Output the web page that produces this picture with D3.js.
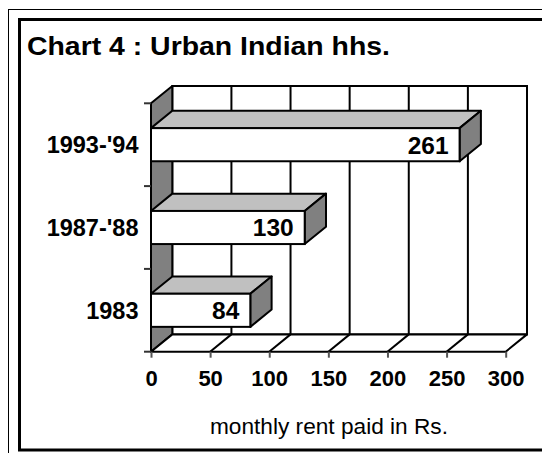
<!DOCTYPE html>
<html>
<head>
<meta charset="utf-8">
<script src="https://cdn.jsdelivr.net/npm/d3@7"></script>
<style>
  html, body { margin: 0; padding: 0; background: #fff; }
  svg { display: block; }
  text { font-family: "Liberation Sans", Arial, Helvetica, sans-serif; }
</style>
</head>
<body>
<script>
// ---- data ----
const categories = ["1993-'94", "1987-'88", "1983"];
const values = [261, 130, 84];
const xTicks = [0, 50, 100, 150, 200, 250, 300];
const title = "Chart 4 : Urban Indian hhs.";
const xAxisTitle = "monthly rent paid in Rs.";

// ---- layout ----
const W = 542, H = 453;
const depth = { dx: 21.3, dy: 17.3 };

const svg = d3.select("body").append("svg").attr("width", W).attr("height", H);

// frames
svg.append("rect").attr("x", 8.5).attr("y", 9.5).attr("width", 600).attr("height", 600)
  .attr("fill", "none").attr("stroke", "#000").attr("stroke-width", 1);
svg.append("rect").attr("x", 19.5).attr("y", 19.5).attr("width", 600).attr("height", 430.5)
  .attr("fill", "#fff").attr("stroke", "#000").attr("stroke-width", 3);

// title
svg.append("text").attr("x", 27).attr("y", 55)
  .attr("font-size", 26).attr("font-weight", "bold").attr("fill", "#000")
  .attr("textLength", 363).attr("lengthAdjust", "spacingAndGlyphs")
  .text(title);

const x = d3.scaleLinear().domain([0, 300]).range([151, 505.7]);
const y = d3.scaleBand().domain(categories).range([103.3, 351.7])
  .paddingInner(0.6).paddingOuter(0.3);
const [yTop, yBot] = y.range();
const step = y.step();
const dx = depth.dx, dy = depth.dy;
const x0 = x(0), x1 = x(300);

const g = svg.append("g");

// back wall
g.append("rect").attr("x", x0 + dx).attr("y", yTop - dy)
  .attr("width", x1 - x0).attr("height", yBot - yTop)
  .attr("fill", "#fff").attr("stroke", "#000").attr("stroke-width", 2);

// back wall gridlines
g.selectAll("line.grid").data(xTicks.slice(1, -1)).join("line")
  .attr("class", "grid")
  .attr("x1", d => x(d) + dx).attr("x2", d => x(d) + dx)
  .attr("y1", yTop - dy).attr("y2", yBot - dy)
  .attr("stroke", "#000").attr("stroke-width", 2);

// side wall
g.append("polygon")
  .attr("points", [[x0, yTop], [x0 + dx, yTop - dy], [x0 + dx, yBot - dy], [x0, yBot]].map(p => p.join(",")).join(" "))
  .attr("fill", "#808080").attr("stroke", "#000").attr("stroke-width", 2).attr("stroke-linejoin", "round");

// floor
g.append("polygon")
  .attr("points", [[x0, yBot], [x1, yBot], [x1 + dx, yBot - dy], [x0 + dx, yBot - dy]].map(p => p.join(",")).join(" "))
  .attr("fill", "#fff").attr("stroke", "#000").attr("stroke-width", 2).attr("stroke-linejoin", "round");

// floor gridlines
g.selectAll("line.fgrid").data(xTicks.slice(1, -1)).join("line")
  .attr("class", "fgrid")
  .attr("x1", d => x(d)).attr("x2", d => x(d) + dx)
  .attr("y1", yBot).attr("y2", yBot - dy)
  .attr("stroke", "#000").attr("stroke-width", 2);

// x axis ticks + labels
const xAxis = d3.axisBottom(x).tickValues(xTicks).tickSize(6).tickPadding(13).tickFormat(d3.format("d"));
const xg = svg.append("g").attr("transform", `translate(0,${yBot})`).call(xAxis);
xg.select(".domain").remove();
xg.selectAll(".tick line").attr("stroke", "#555").attr("stroke-width", 2);
xg.selectAll(".tick text").attr("font-size", 22).attr("font-weight", "bold")
  .attr("fill", "#000").attr("font-family", "'Liberation Sans', Arial, sans-serif");

// y ticks at band boundaries
const yBounds = d3.range(categories.length + 1).map(i => yTop + i * step);
svg.selectAll("line.ytick").data(yBounds).join("line")
  .attr("class", "ytick")
  .attr("x1", x0 - 7).attr("x2", x0).attr("y1", d => d).attr("y2", d => d)
  .attr("stroke", "#333").attr("stroke-width", 2);

// category labels
svg.selectAll("text.cat").data(categories).join("text")
  .attr("class", "cat")
  .attr("x", x0 - 12.5).attr("y", d => y(d) + y.bandwidth() / 2)
  .attr("dy", "0.36em").attr("text-anchor", "end")
  .attr("font-size", 23.5).attr("font-weight", "bold").attr("fill", "#000")
  .text(d => d);

// bars
const data = categories.map((c, i) => ({ c, v: values[i] }));
const bars = svg.selectAll("g.bar").data(data).join("g").attr("class", "bar");
bars.append("polygon") // top face
  .attr("points", d => {
    const yt = y(d.c), xr = x(d.v);
    return [[x0, yt], [x0 + dx, yt - dy], [xr + dx, yt - dy], [xr, yt]].map(p => p.join(",")).join(" ");
  })
  .attr("fill", "#c0c0c0").attr("stroke", "#000").attr("stroke-width", 2).attr("stroke-linejoin", "round");
bars.append("polygon") // right side face
  .attr("points", d => {
    const yt = y(d.c), yb = yt + y.bandwidth(), xr = x(d.v);
    return [[xr, yt], [xr + dx, yt - dy], [xr + dx, yb - dy], [xr, yb]].map(p => p.join(",")).join(" ");
  })
  .attr("fill", "#808080").attr("stroke", "#000").attr("stroke-width", 2).attr("stroke-linejoin", "round");
bars.append("rect") // front face
  .attr("x", x0).attr("y", d => y(d.c))
  .attr("width", d => x(d.v) - x0).attr("height", y.bandwidth())
  .attr("fill", "#fff").attr("stroke", "#000").attr("stroke-width", 2);
bars.append("text")
  .attr("x", d => x(d.v) - 11).attr("y", d => y(d.c) + y.bandwidth() / 2)
  .attr("dy", "0.36em").attr("text-anchor", "end")
  .attr("font-size", 24.5).attr("font-weight", "bold").attr("fill", "#000")
  .text(d => d.v);

// axis title
svg.append("text").attr("x", (210 + 448) / 2).attr("y", 433.5)
  .attr("text-anchor", "middle").attr("font-size", 22.5).attr("fill", "#000")
  .attr("textLength", 238).attr("lengthAdjust", "spacingAndGlyphs")
  .text(xAxisTitle);
</script>
</body>
</html>
